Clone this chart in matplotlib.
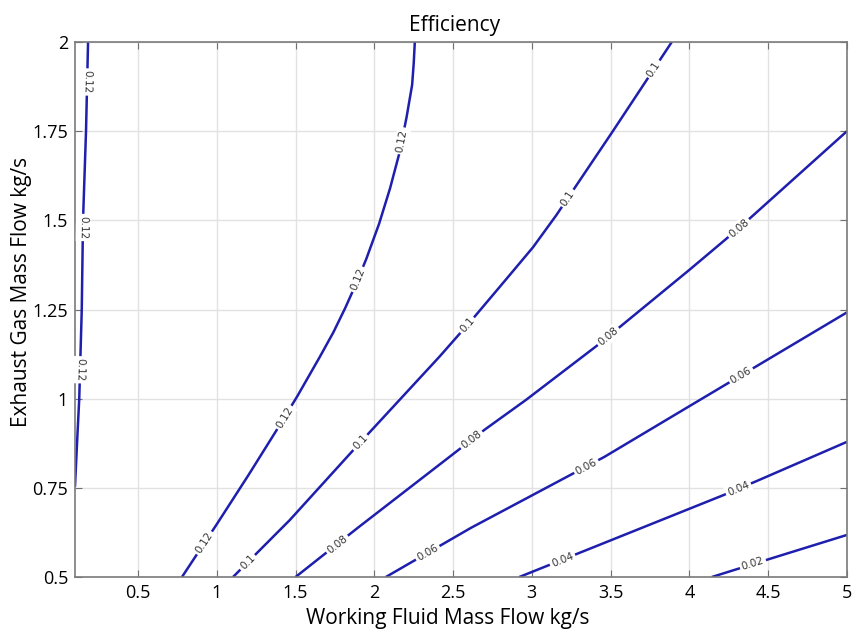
import numpy as np
import matplotlib.pyplot as plt

# contour lines (working fluid flow, exhaust gas flow)
levels = ["0.12", "0.12", "0.1", "0.08", "0.06", "0.04", "0.02"]

x_012a = [0.183, 0.17, 0.151, 0.143, 0.127, 0.113, 0.1]
y_012a = [2.0, 1.75, 1.5, 1.25, 1.0, 0.875, 0.753]

x_012b = [0.779, 1.0, 1.2, 1.38, 1.51, 1.655, 1.74, 1.815, 1.89, 1.95, 2.03, 2.10, 2.16, 2.205, 2.24, 2.25, 2.257]
y_012b = [0.5, 0.648, 0.785, 0.912, 1.006, 1.118, 1.186, 1.254, 1.328, 1.393, 1.49, 1.59, 1.69, 1.79, 1.88, 1.94, 2.0]

x_010 = [1.103, 1.464, 1.908, 2.416, 2.627, 2.839, 3.008, 3.156, 3.514, 3.888]
y_010 = [0.5, 0.66, 0.876, 1.119, 1.225, 1.336, 1.425, 1.515, 1.75, 2.0]

x_008 = [1.5, 1.895, 2.70, 2.964, 3.423, 4.002, 4.314, 5.0]
y_008 = [0.5, 0.638, 0.913, 0.997, 1.152, 1.362, 1.478, 1.75]

x_006 = [2.073, 2.614, 3.461, 4.015, 5.0]
y_006 = [0.5, 0.638, 0.837, 0.983, 1.242]

x_004 = [2.92, 3.665, 4.218, 4.416, 5.0]
y_004 = [0.5, 0.632, 0.730, 0.767, 0.879]

x_002 = [4.142, 4.511, 5.0]
y_002 = [0.5, 0.551, 0.618]

# inline label positions per line
lab_012a = [(0.17, 1.888), (0.151, 1.48), (0.138, 1.081)]
lab_012b = [(0.94, 0.59), (1.42, 0.95), (1.898, 1.334), (2.173, 1.723)]
lab_010 = [(1.201, 0.539), (1.927, 0.871), (2.60, 1.202), (3.238, 1.559), (3.792, 1.919)]
lab_008 = [(1.768, 0.59), (2.627, 0.879), (3.486, 1.174), (4.314, 1.478)]
lab_006 = [(2.34, 0.567), (3.346, 0.809), (4.333, 1.062)]
lab_004 = [(3.2, 0.542), (4.314, 0.744)]
lab_002 = [(4.409, 0.528)]

lines = [(x_012a, y_012a, lab_012a), (x_012b, y_012b, lab_012b), (x_010, y_010, lab_010),
         (x_008, y_008, lab_008), (x_006, y_006, lab_006), (x_004, y_004, lab_004),
         (x_002, y_002, lab_002)]

xticks = [0.5, 1, 1.5, 2, 2.5, 3, 3.5, 4, 4.5, 5]
xtick_labels = ["0.5", "1", "1.5", "2", "2.5", "3", "3.5", "4", "4.5", "5"]
yticks = [0.5, 0.75, 1, 1.25, 1.5, 1.75, 2]
ytick_labels = ["0.5", "0.75", "1", "1.25", "1.5", "1.75", "2"]

plt.rcParams['font.family'] = ['Open Sans', 'DejaVu Sans']

fig = plt.figure(figsize=(8.55, 6.3), dpi=100)
ax = fig.add_axes([0.0877, 0.0841, 0.9029, 0.8492])
ax.set_xlim(0.1, 5)
ax.set_ylim(0.5, 2)
ax.set_xticks(xticks)
ax.set_xticklabels(xtick_labels)
ax.set_yticks(yticks)
ax.set_yticklabels(ytick_labels)
ax.tick_params(direction='in', length=5, color='#707070', labelsize=13,
               top=True, right=True, pad=5)
ax.grid(True, color='#e2e2e2', linewidth=1)
ax.set_axisbelow(True)
for s in ax.spines.values():
    s.set_color('#7a7a7a')
    s.set_linewidth(1.2)

blue = '#1f1fae'
for (xs, ys, labs), lev in zip(lines, levels):
    ax.plot(xs, ys, color=blue, linewidth=1.8, solid_capstyle='butt',
            solid_joinstyle='round', zorder=2)

fig.canvas.draw()
trans = ax.transData
for (xs, ys, labs), lev in zip(lines, levels):
    pts = trans.transform(np.column_stack([xs, ys]))
    for lx, ly in labs:
        p = trans.transform((lx, ly))
        best = None
        for i in range(len(pts) - 1):
            a, b = pts[i], pts[i + 1]
            d = b - a
            t = np.clip(np.dot(p - a, d) / np.dot(d, d), 0, 1)
            q = a + t * d
            dist = np.hypot(*(p - q))
            if best is None or dist < best[0]:
                best = (dist, q, d)
        _, q, d = best
        ang = np.degrees(np.arctan2(d[1], d[0]))
        qx, qy = trans.inverted().transform(q)
        ax.text(qx, qy, lev, fontsize=7.5, color='#333333', rotation=ang,
                rotation_mode='anchor', ha='center', va='center', zorder=3,
                family='DejaVu Sans',
                bbox=dict(facecolor='white', edgecolor='none', pad=1.5))

t = ax.set_title("Efficiency", fontsize=15, pad=8)
t.set_x(0.492)
ax.set_xlabel("Working Fluid Mass Flow kg/s", fontsize=15)
ax.xaxis.set_label_coords(0.483, -0.058)
ax.set_ylabel("Exhaust Gas Mass Flow kg/s", fontsize=15)
ax.yaxis.set_label_coords(-0.056, 0.533)

fig.savefig("out.png", dpi=100)
